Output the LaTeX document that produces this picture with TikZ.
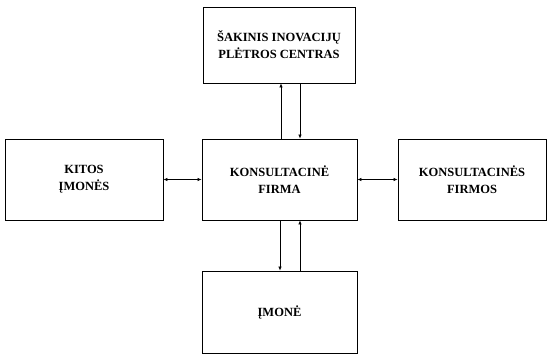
\documentclass[tikz,border=0pt]{standalone}
\usepackage{fontspec}
\setmainfont{Liberation Serif}
\usetikzlibrary{arrows.meta}

\tikzset{
  blok/.style={draw, line width=0.8pt, align=center, inner sep=2pt,
    font=\bfseries\fontsize{12.5}{17}\selectfont},
  rod/.style={line width=0.7pt, -{Latex[length=4pt,width=3.5pt]}},
  abirod/.style={line width=0.7pt, {Latex[length=4pt,width=3.5pt]}-{Latex[length=4pt,width=3.5pt]}}
}

\begin{document}
\begin{tikzpicture}[x=1pt, y=1pt]
    \useasboundingbox (0, 0) rectangle (548, 354);
    % blokai
    \node[blok, minimum width=152pt, minimum height=76pt] (centras) at (279, 309) {ŠAKINIS INOVACIJŲ\\PLĖTROS CENTRAS};
    \node[blok, minimum width=155pt, minimum height=81pt] (firma) at (279.5, 174.5) {KONSULTACINĖ\\FIRMA};
    \node[blok, minimum width=158pt, minimum height=81pt] (kitos) at (84, 174.5) {KITOS\\ĮMONĖS};
    \node[blok, minimum width=148pt, minimum height=81pt] (firmos) at (472, 174.5) {KONSULTACINĖS\\FIRMOS};
    \node[blok, minimum width=155pt, minimum height=82pt] (imone) at (279.5, 42) {ĮMONĖ};
    % rodyklės
    \draw[rod] ([xshift=1.5pt]firma.north) -- ([xshift=1.5pt]firma.north |- centras.south);
    \draw[rod] ([xshift=20.5pt]firma.north |- centras.south) -- ([xshift=20.5pt]firma.north);
    \draw[rod] ([xshift=0.5pt]firma.south) -- ([xshift=0.5pt]firma.south |- imone.north);
    \draw[rod] ([xshift=20.5pt]firma.south |- imone.north) -- ([xshift=20.5pt]firma.south);
    \draw[abirod] (kitos.east) -- (firma.west);
    \draw[abirod] (firma.east) -- (firmos.west);
\end{tikzpicture}
\end{document}
